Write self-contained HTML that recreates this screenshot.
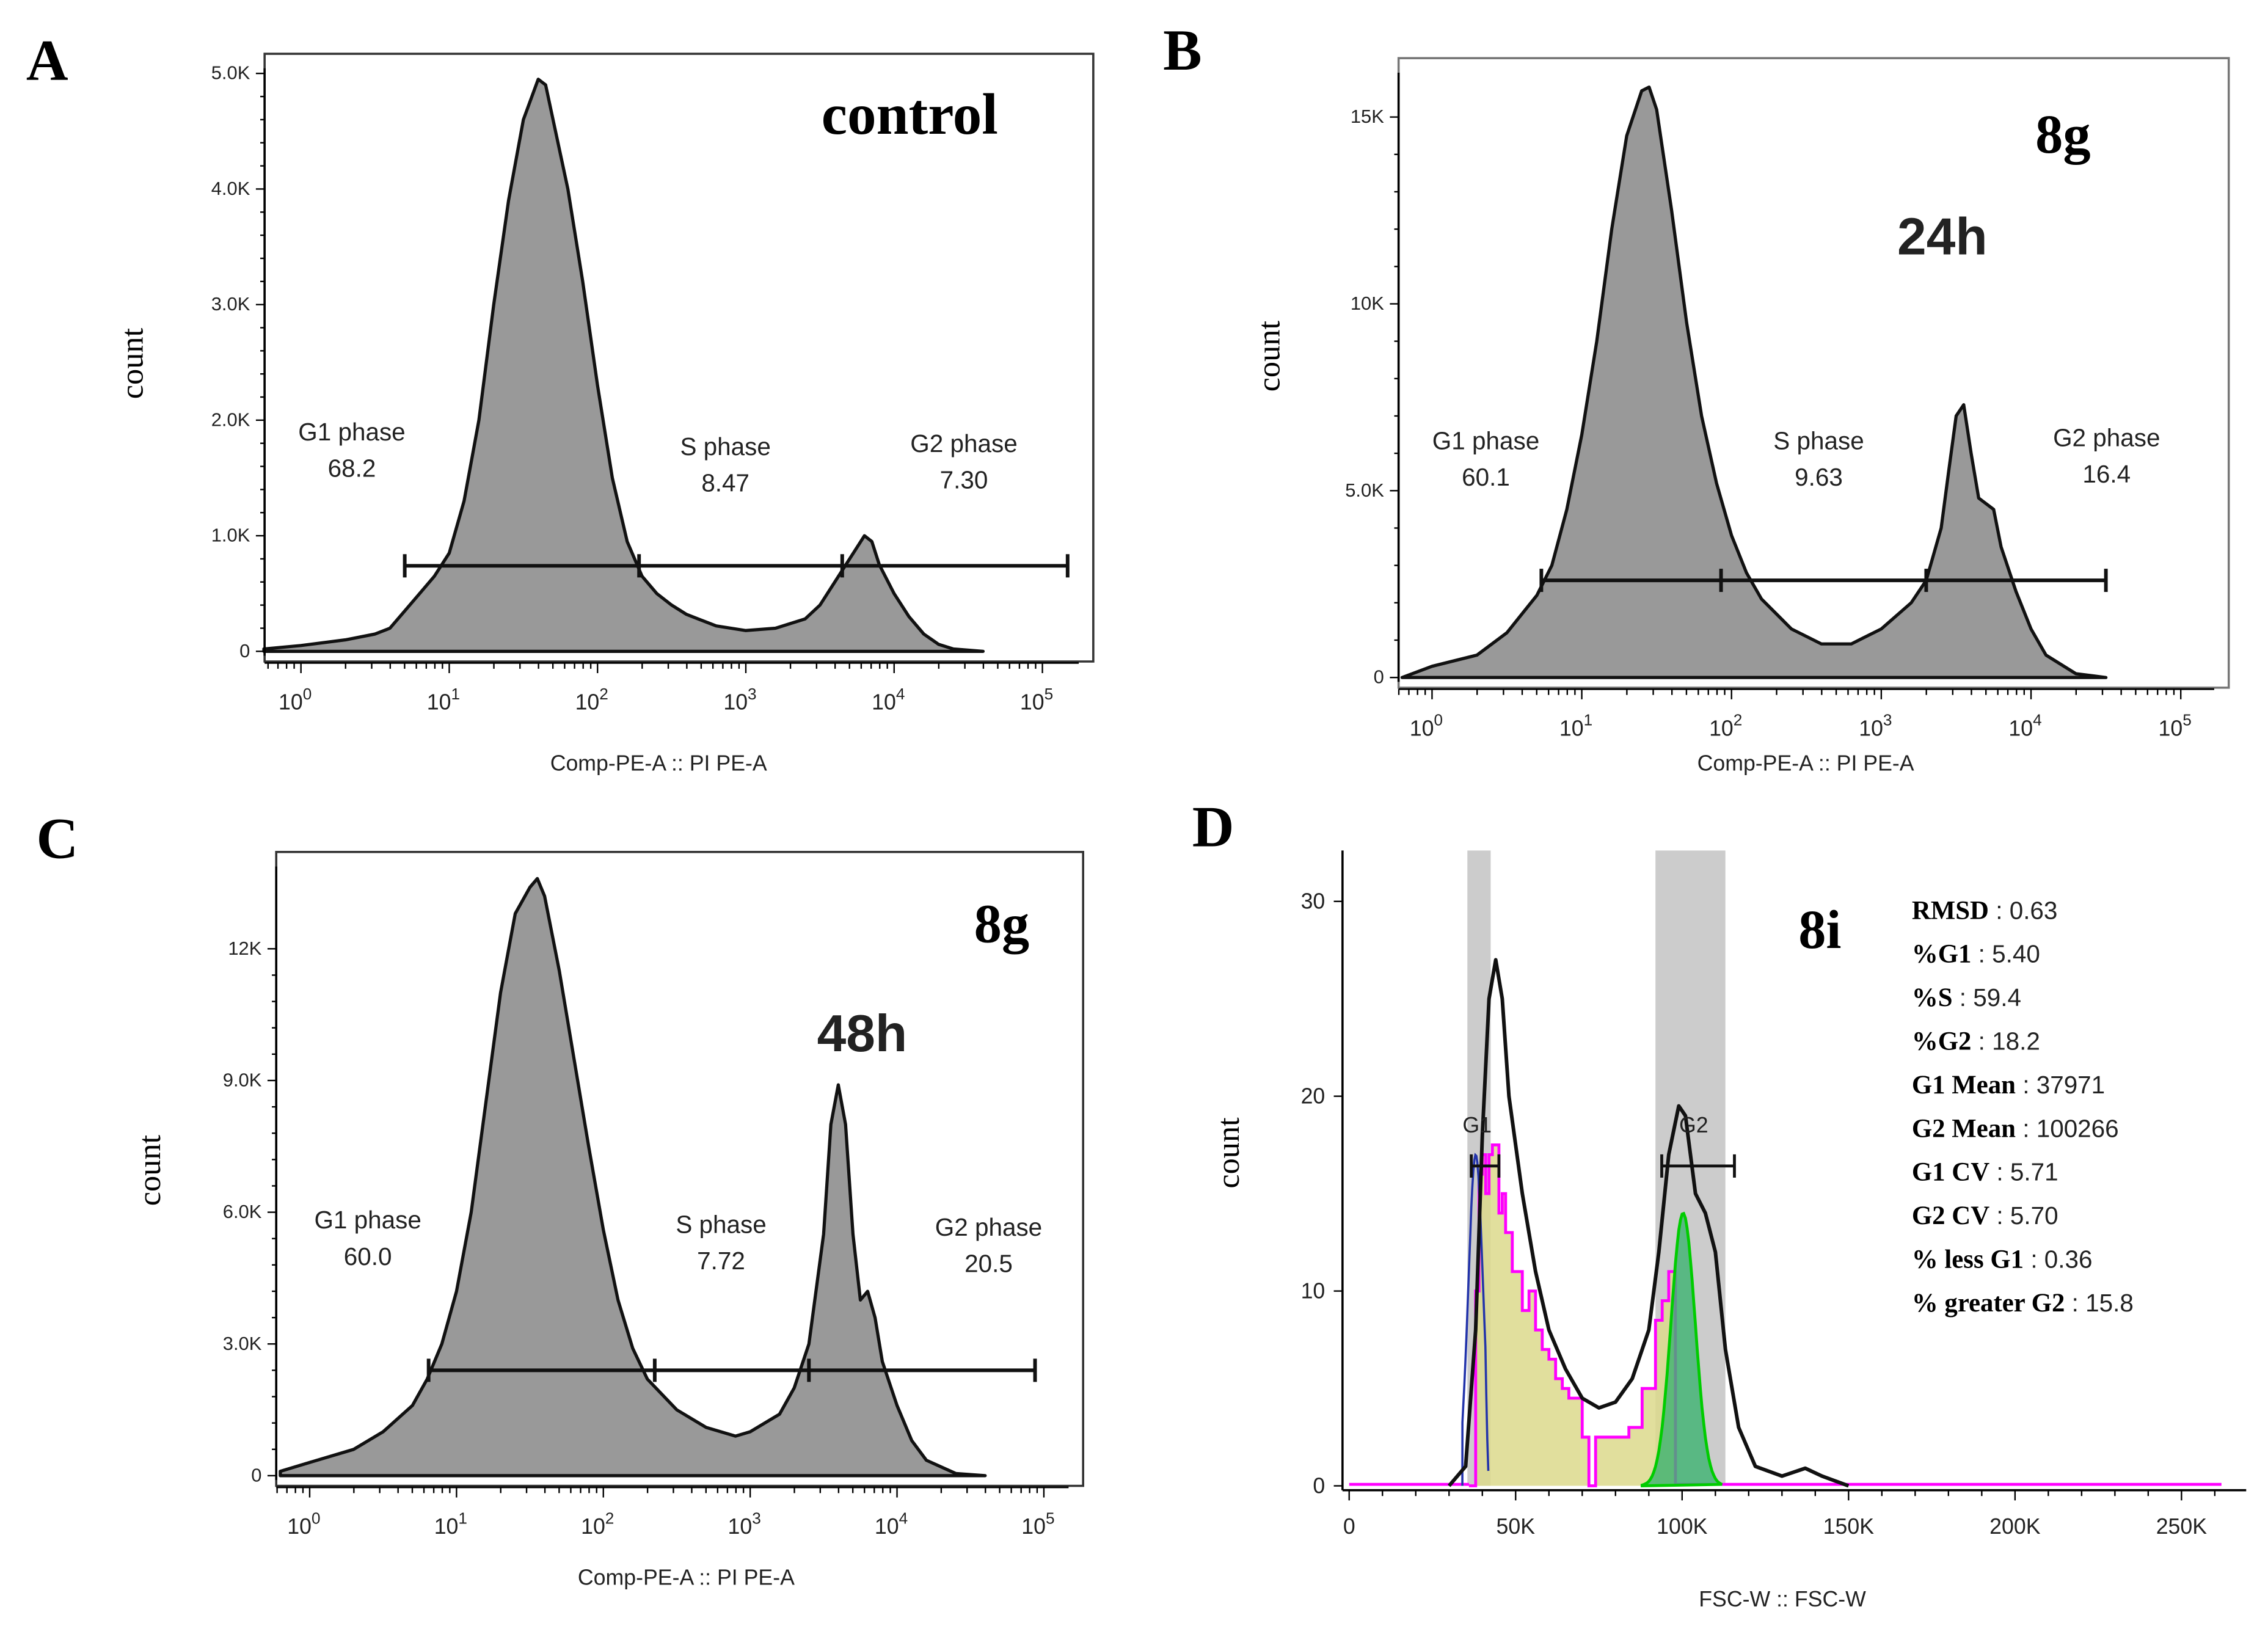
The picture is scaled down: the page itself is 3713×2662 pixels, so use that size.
<!DOCTYPE html>
<html><head><meta charset="utf-8"><style>
html,body{margin:0;padding:0;background:#fff}
svg{display:block}
.t{font-family:"Liberation Sans",sans-serif;fill:#222}
.s{font-family:"Liberation Serif",serif;fill:#000}
</style></head><body>
<svg id="fig" width="3713" height="2662" viewBox="0 0 1560 1118.4" preserveAspectRatio="none" xmlns="http://www.w3.org/2000/svg"></svg>
<script>
// Panel A data (log10 x, count in K)
const aLog=[-0.25,0,0.3,0.5,0.6,0.7,0.8,0.9,1.0,1.1,1.2,1.3,1.4,1.5,1.6,1.65,1.7,1.8,1.9,2.0,2.1,2.2,2.3,2.4,2.5,2.6,2.8,3.0,3.2,3.4,3.5,3.6,3.7,3.8,3.85,3.9,4.0,4.1,4.2,4.3,4.4,4.6];
const aCnt=[0.02,0.05,0.1,0.15,0.2,0.35,0.5,0.65,0.85,1.3,2.0,3.0,3.9,4.6,4.95,4.9,4.6,4.0,3.2,2.3,1.5,0.95,0.65,0.5,0.4,0.32,0.22,0.18,0.2,0.28,0.4,0.6,0.8,1.0,0.95,0.75,0.5,0.3,0.15,0.06,0.02,0];
// Panel B data
const bLog=[-0.2,0,0.3,0.5,0.7,0.8,0.9,1.0,1.1,1.2,1.3,1.4,1.45,1.5,1.6,1.7,1.8,1.9,2.0,2.1,2.2,2.4,2.6,2.8,3.0,3.2,3.3,3.4,3.45,3.5,3.55,3.6,3.65,3.75,3.8,3.9,4.0,4.1,4.3,4.5];
const bCnt=[0,0.3,0.6,1.2,2.2,3.0,4.5,6.5,9,12,14.5,15.7,15.8,15.2,12.5,9.5,7,5.2,3.8,2.8,2.1,1.3,0.9,0.9,1.3,2.0,2.6,4,5.5,7.0,7.3,6.0,4.8,4.5,3.5,2.3,1.3,0.6,0.1,0];
// Panel C data
const cLog=[-0.2,0,0.3,0.5,0.7,0.8,0.9,1.0,1.1,1.2,1.3,1.4,1.5,1.55,1.6,1.7,1.8,1.9,2.0,2.1,2.2,2.3,2.5,2.7,2.9,3.0,3.2,3.3,3.4,3.5,3.55,3.6,3.65,3.7,3.75,3.8,3.85,3.9,4.0,4.1,4.2,4.4,4.6];
const cCnt=[0.1,0.3,0.6,1.0,1.6,2.2,3.0,4.2,6.0,8.5,11,12.8,13.4,13.6,13.2,11.5,9.5,7.5,5.6,4.0,2.9,2.2,1.5,1.1,0.9,1.0,1.4,2.0,3.0,5.5,8.0,8.9,8.0,5.5,4.0,4.2,3.6,2.6,1.6,0.8,0.35,0.05,0];
// Panel D data (FSC-W in K, count)
const dX=[30,35,38,40,42,44,46,48,52,56,60,65,70,75,80,85,90,93,96,99,101,104,107,110,113,117,122,130,137,142,150];
const dY=[0,1,8,18,25,27,25,20,15,11,8,6,4.5,4,4.3,5.5,8,12,17,19.5,19,15,14,12,7,3,1,0.5,0.9,0.5,0];
const dStepX=[36,38,39,40,41,42,43,44,45,46,47,48,49,50,52,54,56,58,60,62,64,66,70,72,74,76,78,80,84,88,90,92,94,96,98];
const dStepY=[0,10,16,17,15,17,17.5,17.5,14,15,13,13,11,11,9,10,8,7,6.5,5.5,5,4.5,2.5,0,2.5,2.5,2.5,2.5,3,5,5,8.5,9.5,11,0];
const yTicksA=["0","1.0K","2.0K","3.0K","4.0K","5.0K"], yValsA=[0,1,2,3,4,5];
const yTicksB=["0","5.0K","10K","15K"], yValsB=[0,5,10,15];
const yTicksC=["0","3.0K","6.0K","9.0K","12K"], yValsC=[0,3,6,9,12];
const yTicksD=["0","10","20","30"], yValsD=[0,10,20,30];
const xTicksD=["0","50K","100K","150K","200K","250K"], xValsD=[0,50,100,150,200,250];
const dStats=[["RMSD","0.63"],["%G1","5.40"],["%S","59.4"],["%G2","18.2"],["G1 Mean","37971"],["G2 Mean","100266"],["G1 CV","5.71"],["G2 CV","5.70"],["% less G1","0.36"],["% greater G2","15.8"]];

const svg=document.getElementById('fig');
const NS="http://www.w3.org/2000/svg";
function el(tag,attrs,parent,text){const e=document.createElementNS(NS,tag);for(const k in attrs)e.setAttribute(k,attrs[k]);if(text!==undefined)e.textContent=text;(parent||svg).appendChild(e);return e;}

function logPanel(p){
  const g=el('g',{});
  
  
  const X=v=>p.x0+v*p.dx, Y=v=>p.y0-v*p.dy;
  el('rect',{x:p.box[0],y:p.box[1],width:p.box[2]-p.box[0],height:p.box[3]-p.box[1],fill:'none',stroke:p.boxc||'#333','stroke-width':1.5},g);
  let d='M'+X(p.lx[0])+','+Y(0);
  p.lx.forEach((v,i)=>d+=' L'+X(v).toFixed(1)+','+Y(p.cy[i]).toFixed(1));
  d+=' L'+X(p.lx[p.lx.length-1])+','+Y(0)+'Z';
  const a=el('path',{d:d,fill:'#999',stroke:'#111','stroke-width':2.2,'stroke-linejoin':'round'},g);
  
  
  el('line',{x1:p.box[0],y1:p.box[1]+10,x2:p.box[0],y2:p.y0+3,stroke:'#000','stroke-width':1.5},g);
  el('line',{x1:p.box[0],y1:p.y0+8,x2:p.box[2]-10,y2:p.y0+8,stroke:'#000','stroke-width':1.2},g);
  p.yv.forEach((v,i)=>{el('line',{x1:p.box[0]-6,x2:p.box[0],y1:Y(v),y2:Y(v),stroke:'#000'},g);
    const t=el('text',{x:p.box[0]-10,y:Y(v)+4,'text-anchor':'end','font-size':13,class:'t'},g,p.yt[i]);
    
    if(i<p.yv.length-1)for(let k=1;k<5;k++){const yy=Y(v+(p.yv[1]-p.yv[0])*k/5);el('line',{x1:p.box[0]-3,x2:p.box[0],y1:yy,y2:yy,stroke:'#000'},g);}});
  for(let e=0;e<=5;e++){const xx=X(e);el('line',{x1:xx,x2:xx,y1:p.y0+8,y2:p.y0+15,stroke:'#000'},g);
    for(let k=2;k<10;k++){const x2=X(e-1+Math.log10(k));if(x2>p.box[0])el('line',{x1:x2,x2:x2,y1:p.y0+8,y2:p.y0+12,stroke:'#000'},g);}
    const t=el('text',{x:xx-4,y:p.y0+40,'text-anchor':'middle','font-size':15,class:'t'},g,'10');
    el('tspan',{dy:-7,'font-size':11},t,String(e));
    }
  const xt=el('text',{x:p.xlab[0],y:p.xlab[1],'text-anchor':'middle','font-size':15,class:'t'},g,'Comp-PE-A :: PI PE-A');
  
  const yt=el('text',{x:0,y:0,transform:`translate(${p.ylab[0]},${p.ylab[1]}) rotate(-90)`,'text-anchor':'middle','font-size':22,class:'s'},g,'count');
  
  const gy=Y(p.gate[0]);
  el('line',{x1:X(p.gate[1]),x2:X(p.gate[2]),y1:gy,y2:gy,stroke:'#111','stroke-width':2.5},g);
  p.gticks.forEach(v=>el('line',{x1:X(v),x2:X(v),y1:gy-8,y2:gy+8,stroke:'#111','stroke-width':2.5},g));
  p.labels.forEach(l=>{el('text',{x:l[0],y:l[1],'text-anchor':'middle','font-size':17,class:'t'},g,l[2]);
    el('text',{x:l[0],y:l[1]+25,'text-anchor':'middle','font-size':17,class:'t'},g,l[3]);});
  p.titles.forEach(tt=>{const t=el('text',{x:tt[0],y:tt[1],'font-size':tt[3],'font-weight':'bold',class:tt[4]||'s'},g,tt[2]);
    });
}
logPanel({name:'panel-a',box:[182,37,752,455],x0:207,dx:102,y0:448,dy:79.5,lx:aLog,cy:aCnt,yv:yValsA,yt:yTicksA,
 gate:[0.74,0.7,5.17],gticks:[0.7,2.28,3.65,5.17],xlab:[453,530],ylab:[98,250],
 labels:[[242,303,'G1 phase','68.2'],[499,313,'S phase','8.47'],[663,311,'G2 phase','7.30']],
 titles:[[565,92,'control',40]]});
logPanel({name:'panel-b',box:[962,40,1533,473],boxc:'#777',x0:985,dx:103,y0:466,dy:25.7,lx:bLog,cy:bCnt,yv:yValsB,yt:yTicksB,
 gate:[2.6,0.73,4.5],gticks:[0.73,1.93,3.3,4.5],xlab:[1242,530],ylab:[880,245],
 labels:[[1022,309,'G1 phase','60.1'],[1251,309,'S phase','9.63'],[1449,307,'G2 phase','16.4']],
 titles:[[1400,105,'8g',38],[1305,175,'24h',36,'t']]});
logPanel({name:'panel-c',box:[190,586,745,1022],x0:213,dx:101,y0:1015,dy:30.2,lx:cLog,cy:cCnt,yv:yValsC,yt:yTicksC,
 gate:[2.4,0.81,4.94],gticks:[0.81,2.35,3.4,4.94],xlab:[472,1090],ylab:[110,805],
 labels:[[253,845,'G1 phase','60.0'],[496,848,'S phase','7.72'],[680,850,'G2 phase','20.5']],
 titles:[[670,648,'8g',38],[562,723,'48h',36,'t']]});

(function(){
  const g=el('g',{});
  
  
  const X=k=>928+k*2.29, Y=v=>1022-v*13.4;
  el('rect',{x:X(35.5),y:585,width:X(42.5)-X(35.5),height:437,fill:'#ccc'},g);
  el('rect',{x:X(92),y:585,width:X(113)-X(92),height:437,fill:'#ccc'},g);
  let d='M'+X(dStepX[0])+','+Y(0);
  for(let i=0;i<dStepX.length-1;i++){d+=` L${X(dStepX[i]).toFixed(1)},${Y(dStepY[i]).toFixed(1)} L${X(dStepX[i+1]).toFixed(1)},${Y(dStepY[i]).toFixed(1)}`;}
  d+=` L${X(dStepX[dStepX.length-1])},${Y(0)}`;
  el('path',{d:d+'Z',fill:'#dcd98c','fill-opacity':0.85,stroke:'none'},g);
  const mg=el('path',{d:d,fill:'none',stroke:'#ff00ff','stroke-width':2},g);
  
  el('line',{x1:X(0),x2:X(36),y1:Y(0)-1,y2:Y(0)-1,stroke:'#ff00ff','stroke-width':2},g);
  el('line',{x1:X(98),x2:X(262),y1:Y(0)-1,y2:Y(0)-1,stroke:'#ff00ff','stroke-width':2},g);
  let gd='M'+X(88)+','+Y(0);
  for(let k=88;k<=112;k+=0.5)gd+=` L${X(k).toFixed(1)},${Y(14*Math.exp(-((k-100.3)**2)/(2*3.6**2))).toFixed(1)}`;
  el('path',{d:gd+'Z',fill:'#3cb371','fill-opacity':0.8,stroke:'#00cc00','stroke-width':2},g);
  let bd='M'+X(34)+','+Y(0);
  for(let k=34;k<=42;k+=0.3)bd+=` L${X(k).toFixed(1)},${Y(17*Math.exp(-((k-38)**2)/(2*2.2**2))*(k<41?1:Math.max(0,(42-k)))).toFixed(1)}`;
  el('path',{d:bd,fill:'none',stroke:'#2233aa','stroke-width':1.5},g);
  let cd='';dX.forEach((v,i)=>cd+=(i?' L':'M')+X(v).toFixed(1)+','+Y(dY[i]).toFixed(1));
  const bc=el('path',{d:cd,fill:'none',stroke:'#111','stroke-width':2.5,'stroke-linejoin':'round'},g);
  
  el('line',{x1:X(-2),x2:X(-2),y1:585,y2:Y(0)+3,stroke:'#000','stroke-width':1.5},g);
  el('line',{x1:X(-2),x2:1545,y1:Y(0)+3,y2:Y(0)+3,stroke:'#000','stroke-width':1.5},g);
  yValsD.forEach((v,i)=>{el('line',{x1:X(-2)-6,x2:X(-2),y1:Y(v),y2:Y(v),stroke:'#000'},g);
    el('text',{x:X(-2)-12,y:Y(v)+5,'text-anchor':'end','font-size':15,class:'t'},g,yTicksD[i]);});
  for(let k=0;k<=260;k+=10){el('line',{x1:X(k),x2:X(k),y1:Y(0)+3,y2:Y(0)+(k%50?7:10),stroke:'#000'},g);}
  xValsD.forEach((v,i)=>el('text',{x:X(v),y:Y(0)+33,'text-anchor':'middle','font-size':15,class:'t'},g,xTicksD[i]));
  const xt=el('text',{x:1226,y:1105,'text-anchor':'middle','font-size':15,class:'t'},g,'FSC-W :: FSC-W');
  
  const yt=el('text',{x:0,y:0,transform:'translate(852,793) rotate(-90)','text-anchor':'middle','font-size':22,class:'s'},g,'count');
  
  el('text',{x:1016,y:779,'text-anchor':'middle','font-size':15,class:'t'},g,'G1');
  el('text',{x:1165,y:779,'text-anchor':'middle','font-size':15,class:'t'},g,'G2');
  [[1012,1031],[1143,1193]].forEach(r=>{el('line',{x1:r[0],x2:r[1],y1:802,y2:802,stroke:'#111','stroke-width':2},g);
    el('line',{x1:r[0],x2:r[0],y1:794,y2:810,stroke:'#111','stroke-width':2},g);el('line',{x1:r[1],x2:r[1],y1:794,y2:810,stroke:'#111','stroke-width':2},g);});
  el('text',{x:1237,y:652,'font-size':38,'font-weight':'bold',class:'s'},g,'8i');
  dStats.forEach((s,i)=>{const t=el('text',{x:1315,y:632+i*30,'font-size':18,class:'s'},g);
    el('tspan',{'font-weight':'bold'},t,s[0]);el('tspan',{class:'t','font-size':17},t,' : '+s[1]);
    });
})();
[['A',18,55],['B',800,48],['C',25,590],['D',820,582]].forEach(l=>{const t=el('text',{x:l[1],y:l[2],'font-size':40,'font-weight':'bold',class:'s'},svg,l[0]);
  });
</script>
</body></html>
